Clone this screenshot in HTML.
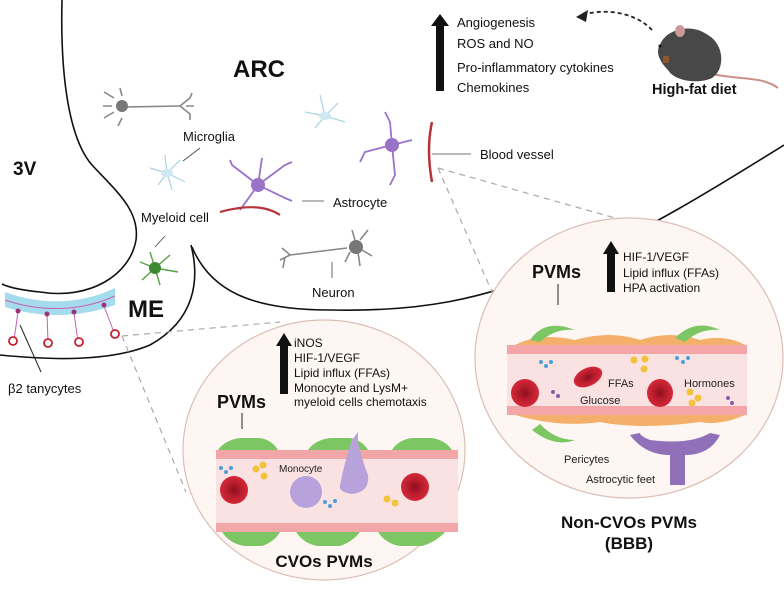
<!DOCTYPE html>
<html><head><meta charset="utf-8"><style>
html,body{margin:0;padding:0;background:#fff}
svg{display:block;font-family:"Liberation Sans",sans-serif}
</style></head><body>
<svg width="784" height="597" viewBox="0 0 784 597" xmlns="http://www.w3.org/2000/svg">
<defs>
<radialGradient id="rbc"><stop offset="0" stop-color="#8c1020"/><stop offset="0.5" stop-color="#b81d2c"/><stop offset="1" stop-color="#d4283a"/></radialGradient>
</defs>
<g fill="none" stroke="#111" stroke-width="1.6">
<path d="M62,0 C60,80 70,140 92,165 C115,190 140,210 136,240 C130,275 90,300 40,292 C20,290 8,287 2,284"/>
<path d="M191,245 C200,280 195,320 150,345 C110,362 50,360 0,355"/>
<path d="M192,247 C210,290 250,310 330,310 C420,312 480,300 560,268 C640,235 720,185 784,145"/>
</g>
<g stroke="#aaa" stroke-width="1.2" stroke-dasharray="6,5" fill="none">
<path d="M122,336 L280,322"/>
<path d="M122,336 L186,492"/>
<path d="M438,168 L615,218"/>
<path d="M438,168 L492,292"/>
</g>
<ellipse cx="324" cy="450" rx="141" ry="130" fill="#fdf6f2" stroke="#dbbfb5" stroke-width="1.2"/>
<ellipse cx="629" cy="358" rx="154" ry="140" fill="#fdf6f2" stroke="#dbbfb5" stroke-width="1.2"/>
<g>
<path d="M5,292 C40,305 80,305 115,288 L115,305 C80,318 40,318 5,307 Z" fill="#8fd3e8" opacity="0.8"/>
<g stroke="#c463b5" stroke-width="1" fill="none">
<path d="M18,312 L14,340"/><path d="M47,314 L48,342"/><path d="M74,313 L78,342"/><path d="M104,306 L115,335"/>
<path d="M5,300 C40,312 80,312 115,296"/>
</g>
<g fill="#a0307a"><circle cx="18" cy="311" r="2.5"/><circle cx="47" cy="314" r="2.5"/><circle cx="74" cy="312" r="2.5"/><circle cx="104" cy="305" r="2.5"/></g>
<g fill="#fff" stroke="#c8202e" stroke-width="1.8"><circle cx="13" cy="341" r="4"/><circle cx="48" cy="343" r="4"/><circle cx="79" cy="342" r="4"/><circle cx="115" cy="334" r="4"/></g>
</g>
<line x1="20" y1="325" x2="41" y2="372" stroke="#222" stroke-width="1"/>
<g stroke="#888" stroke-width="1.6" fill="none">
<path d="M123,107 L180,106"/><path d="M114,98 L104,92 M114,112 L104,118 M122,96 L120,88 M122,118 L118,126 M112,106 L103,106"/>
<path d="M180,106 L190,98 L192,93 M180,106 L190,114 L190,120 M186,106 L194,106"/>
<path d="M290,255 L347,248"/><path d="M290,255 L282,248 M290,255 L280,260 M285,257 L283,268"/>
<path d="M355,240 L352,230 M360,240 L368,230 M362,250 L372,256 M358,252 L360,266 M350,252 L345,262"/>
</g>
<circle cx="122" cy="106" r="6" fill="#777"/><circle cx="356" cy="247" r="7" fill="#777"/>
<g stroke="#a9d3e8" stroke-width="1.2" fill="none">
<path d="M167,173 L150,168 M167,173 L158,185 M167,173 L180,160 M167,173 L185,182 M167,173 L165,155 M167,173 L172,190"/>
<path d="M325,116 L305,112 M325,116 L315,128 M325,116 L338,103 M325,116 L345,122 M325,116 L320,95"/>
</g>
<ellipse cx="167" cy="173" rx="6" ry="4" fill="#cfe8f4"/><ellipse cx="325" cy="116" rx="6" ry="4" fill="#cfe8f4"/>
<line x1="183" y1="161" x2="200" y2="148" stroke="#444" stroke-width="0.8"/>
<g stroke="#9a72c8" stroke-width="1.8" fill="none">
<path d="M258,185 L232,165 L230,160 M258,185 L262,158 M258,185 L285,165 L292,162 M258,185 L285,198 L292,201 M258,185 L240,210"/>
<path d="M392,145 L390,122 L385,112 M392,145 L365,152 L360,162 M392,145 L395,175 L390,185 M392,145 L412,140"/>
</g>
<circle cx="258" cy="185" r="7" fill="#9a72c8"/><circle cx="392" cy="145" r="7" fill="#9a72c8"/>
<path d="M220,212 C245,205 265,205 280,215" stroke="#b5343a" stroke-width="2.2" fill="none"/>
<path d="M432,122 C428,140 428,160 432,182" stroke="#b5343a" stroke-width="2.5" fill="none"/>
<line x1="302" y1="201" x2="324" y2="201" stroke="#444" stroke-width="0.8"/>
<line x1="432" y1="154" x2="471" y2="154" stroke="#444" stroke-width="0.8"/>
<line x1="332" y1="262" x2="332" y2="278" stroke="#444" stroke-width="0.8"/>
<g stroke="#55a040" stroke-width="1.4" fill="none"><path d="M155,268 L140,262 M155,268 L142,280 M155,268 L170,255 M155,268 L178,272 M155,268 L160,285 M155,268 L150,252"/></g>
<circle cx="155" cy="268" r="6" fill="#3e8a30"/>
<line x1="165" y1="236" x2="155" y2="247" stroke="#444" stroke-width="0.8"/>
<!-- mouse -->
<g>
<path d="M712,74 C740,80 762,76 778,88" stroke="#c9908a" stroke-width="2" fill="none"/>
<path d="M660,45 C665,30 690,22 708,35 C725,45 725,70 712,78 C700,84 675,82 668,70 C660,62 655,52 660,45Z" fill="#484848"/>
<ellipse cx="680" cy="31" rx="5" ry="6" fill="#c99"/>
<circle cx="660" cy="46" r="1.5" fill="#111"/>
<rect x="663" y="56" width="6" height="7" rx="1" fill="#8b5a2b"/>
</g>
<path d="M652,30 C635,12 605,8 582,15" stroke="#222" stroke-width="1.8" stroke-dasharray="4,3" fill="none"/>
<path d="M576,17 L588,10 L586,22 Z" fill="#222"/>
<rect x="436" y="24" width="8" height="67" fill="#111"/><path d="M431,26 L440,14 L449,26 Z" fill="#111"/>
<g font-size="13" fill="#111">
<text x="457" y="27">Angiogenesis</text><text x="457" y="48">ROS and NO</text>
<text x="457" y="72">Pro-inflammatory cytokines</text><text x="457" y="92">Chemokines</text>
<text x="183" y="141">Microglia</text><text x="141" y="222">Myeloid cell</text>
<text x="333" y="207">Astrocyte</text><text x="312" y="297">Neuron</text>
<text x="480" y="159">Blood vessel</text><text x="8" y="393">β2 tanycytes</text>
</g>
<text x="652" y="94" font-size="14.5" font-weight="bold" fill="#111">High-fat diet</text>
<text x="233" y="77" font-size="24" font-weight="bold" fill="#111">ARC</text>
<text x="13" y="175" font-size="19" font-weight="bold" fill="#111">3V</text>
<text x="128" y="317" font-size="24" font-weight="bold" fill="#111">ME</text>
<rect x="280" y="344" width="8" height="50" fill="#111"/><path d="M276,346 L284,333 L292,346 Z" fill="#111"/>
<g font-size="12" fill="#111"><text x="294" y="347">iNOS</text><text x="294" y="362">HIF-1/VEGF</text><text x="294" y="377">Lipid influx (FFAs)</text><text x="294" y="392">Monocyte and LysM+</text><text x="294" y="406">myeloid cells chemotaxis</text></g>
<text x="217" y="408" font-size="18" font-weight="bold" fill="#111">PVMs</text>
<line x1="242" y1="413" x2="242" y2="429" stroke="#222"/>
<rect x="216" y="450" width="242" height="82" fill="#fbe2e2"/>
<rect x="216" y="450" width="242" height="9" fill="#f2a6a8"/>
<rect x="216" y="523" width="242" height="9" fill="#f2a6a8"/>
<g fill="#7cc663">
<path d="M218,450 Q225,440 240,438 L260,438 Q272,440 278,450 Z"/><path d="M308,450 Q315,440 330,438 L350,438 Q362,440 368,450Z"/><path d="M392,450 Q398,440 412,438 L432,438 Q445,440 452,450Z"/>
<path d="M222,532 Q230,544 245,546 L262,546 Q274,542 280,532Z"/><path d="M296,532 Q304,544 318,546 L340,546 Q352,542 360,532Z"/><path d="M378,532 Q386,544 400,546 L422,546 Q436,542 445,532Z"/>
</g>
<ellipse cx="234" cy="490" rx="14" ry="14" fill="url(#rbc)"/><ellipse cx="415" cy="487" rx="14" ry="14" fill="url(#rbc)"/>
<circle cx="306" cy="492" r="16" fill="#b8a2db"/><path d="M340,485 Q345,460 352,440 L358,432 L358,442 Q362,460 368,475 Q370,492 352,494 Q338,492 340,485Z" fill="#b8a2db"/>
<g fill="#f2c23a"><circle cx="256" cy="469" r="3.5"/><circle cx="263" cy="465" r="3.5"/><circle cx="264" cy="476" r="3.5"/><circle cx="387" cy="499" r="3.5"/><circle cx="395" cy="503" r="3.5"/></g>
<g fill="#4a9fd8"><circle cx="221" cy="468" r="2"/><circle cx="226" cy="472" r="2"/><circle cx="231" cy="468" r="2"/><circle cx="325" cy="502" r="2"/><circle cx="330" cy="506" r="2"/><circle cx="335" cy="501" r="2"/></g>
<text x="279" y="472" font-size="10" fill="#222">Monocyte</text>
<text x="324" y="567" text-anchor="middle" font-size="17" font-weight="bold" fill="#111">CVOs PVMs</text>
<text x="532" y="278" font-size="18" font-weight="bold" fill="#111">PVMs</text>
<line x1="558" y1="284" x2="558" y2="305" stroke="#222"/>
<rect x="607" y="252" width="8" height="40" fill="#111"/><path d="M603,254 L611,241 L619,254 Z" fill="#111"/>
<g font-size="12" fill="#111"><text x="623" y="261">HIF-1/VEGF</text><text x="623" y="277">Lipid influx (FFAs)</text><text x="623" y="292">HPA activation</text></g>
<path d="M515,345 Q540,332 575,340 Q610,330 640,340 Q670,330 700,340 Q725,334 745,345Z" fill="#f4b06a"/>
<rect x="507" y="345" width="240" height="70" fill="#fbe2e2"/>
<rect x="507" y="345" width="240" height="9" fill="#f2a6a8"/>
<rect x="507" y="406" width="240" height="9" fill="#f2a6a8"/>
<path d="M515,415 L745,415 Q720,426 700,422 Q640,430 600,422 Q560,428 515,415Z" fill="#f4b06a"/>
<path d="M530,340 Q545,318 575,330 Q555,328 540,342Z" fill="#7cc663"/><path d="M675,338 Q695,318 720,330 Q700,328 685,342Z" fill="#7cc663"/>
<path d="M532,430 Q555,448 575,440 Q555,440 540,424Z" fill="#7cc663"/>
<path d="M630,435 Q645,455 670,455 L670,485 L685,485 L685,455 Q710,455 720,435 L710,433 Q690,445 650,440 Q640,436 640,433Z" fill="#9070b8"/>
<ellipse cx="525" cy="393" rx="14" ry="14" fill="url(#rbc)"/><ellipse cx="660" cy="393" rx="13" ry="14" fill="url(#rbc)"/>
<ellipse cx="588" cy="377" rx="15" ry="9" fill="url(#rbc)" transform="rotate(-25 588 377)"/>
<g fill="#f2c23a"><circle cx="634" cy="360" r="3.5"/><circle cx="645" cy="359" r="3.5"/><circle cx="644" cy="369" r="3.5"/><circle cx="690" cy="392" r="3.5"/><circle cx="698" cy="398" r="3.5"/><circle cx="692" cy="403" r="3.5"/></g>
<g fill="#4a9fd8"><circle cx="541" cy="362" r="2"/><circle cx="546" cy="366" r="2"/><circle cx="551" cy="362" r="2"/><circle cx="677" cy="358" r="2"/><circle cx="683" cy="362" r="2"/><circle cx="688" cy="358" r="2"/></g>
<g fill="#8a5aa8"><circle cx="553" cy="392" r="2"/><circle cx="558" cy="396" r="2"/><circle cx="728" cy="398" r="2"/><circle cx="732" cy="403" r="2"/></g>
<g font-size="11" fill="#222"><text x="608" y="387">FFAs</text><text x="684" y="387">Hormones</text><text x="580" y="404">Glucose</text><text x="564" y="463">Pericytes</text><text x="586" y="483">Astrocytic feet</text></g>
<text x="629" y="528" text-anchor="middle" font-size="17" font-weight="bold" fill="#111">Non-CVOs PVMs</text>
<text x="629" y="549" text-anchor="middle" font-size="17" font-weight="bold" fill="#111">(BBB)</text>
</svg>
</body></html>
